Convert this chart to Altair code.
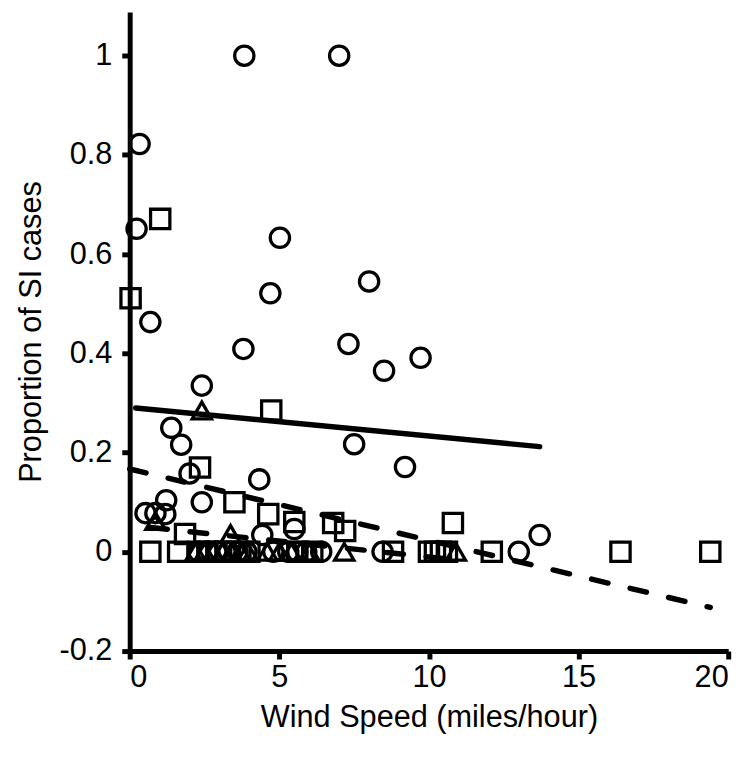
import altair as alt
import pandas as pd

# Circles series
circ_x = [3.83, 7.0, 0.33, 0.23, 0.69, 5.02, 4.7, 8.0, 3.8, 7.31, 8.5, 9.72, 2.41, 1.39, 1.72,
          7.5, 9.2, 2.0, 4.33, 2.41, 1.22, 0.53, 0.86, 1.19, 5.5, 4.43, 13.7, 13.0, 8.45, 2.3,
          2.6, 2.9, 3.3, 3.6, 3.9, 4.8, 5.3, 5.6, 5.9, 6.4]
circ_y = [1.0, 1.0, 0.822, 0.651, 0.463, 0.633, 0.521, 0.545, 0.409, 0.419, 0.365, 0.391, 0.335, 0.25, 0.216,
          0.217, 0.171, 0.158, 0.146, 0.1, 0.104, 0.078, 0.078, 0.076, 0.046, 0.034, 0.034, 0.0, 0.0, 0.0,
          0.0, 0.0, 0.0, 0.0, 0.0, 0.0, 0.0, 0.0, 0.0, 0.0]

# Squares series
sq_x = [1.02, 0.03, 4.73, 2.35, 3.5, 4.63, 5.5, 1.85, 6.8, 7.2, 10.8, 0.69, 1.62, 2.3, 2.6, 2.9,
        3.2, 3.7, 4.0, 5.6, 6.1, 8.8, 10.0, 10.2, 10.4, 10.6, 12.1, 16.4, 19.4]
sq_y = [0.671, 0.511, 0.285, 0.17, 0.1, 0.076, 0.06, 0.036, 0.058, 0.042, 0.058, 0.0, 0.0, 0.0, 0.0, 0.0,
        0.0, 0.0, 0.0, 0.0, 0.0, 0.0, 0.0, 0.0, 0.0, 0.0, 0.0, 0.0, 0.0]

# Triangles series
tri_x = [2.41, 0.86, 3.37, 2.2, 2.5, 2.8, 3.1, 3.4, 3.7, 3.95, 4.6, 5.0, 5.4, 6.0, 7.17, 10.9]
tri_y = [0.285, 0.062, 0.036, 0.0, 0.0, 0.0, 0.0, 0.0, 0.0, 0.0, 0.0, 0.0, 0.0, 0.0, 0.0, 0.0]

# Trend line endpoints
circ_line_x = [0.2, 13.7]
circ_line_y = [0.29, 0.212]
sq_line_x = [0.0, 19.4]
sq_line_y = [0.167, -0.112]
tri_line_x = [0.7, 11.2]
tri_line_y = [0.049, -0.018]

x_ticks = [0, 5, 10, 15, 20]
y_ticks = [-0.2, 0, 0.2, 0.4, 0.6, 0.8, 1]

pts = pd.concat([
    pd.DataFrame({"x": circ_x, "y": circ_y, "s": "circles"}),
    pd.DataFrame({"x": sq_x, "y": sq_y, "s": "squares"}),
    pd.DataFrame({"x": tri_x, "y": tri_y, "s": "triangles"}),
])

FONT = "Liberation Sans"
xscale = alt.Scale(domain=[0, 20], nice=False, zero=False)
yscale = alt.Scale(domain=[-0.2, 1.088], nice=False, zero=False)

xax = alt.Axis(values=x_ticks, title="Wind Speed (miles/hour)", grid=False,
               labelFont=FONT, labelFontSize=31, titleFont=FONT, titleFontSize=31,
               titleFontWeight="normal", labelColor="black", titleColor="black",
               domainColor="black", domainWidth=5, tickColor="black", tickWidth=5,
               tickSize=8, labelPadding=4, titlePadding=10)
yax = alt.Axis(values=y_ticks, title="Proportion of SI cases", grid=False,
               labelExpr="'' + datum.value",
               labelFont=FONT, labelFontSize=31, titleFont=FONT, titleFontSize=31,
               titleFontWeight="normal", labelColor="black", titleColor="black",
               domainColor="black", domainWidth=5, tickColor="black", tickWidth=5,
               tickSize=8, labelPadding=10, titlePadding=12)

points = alt.Chart(pts).mark_point(filled=False, color="black", strokeWidth=3.3, size=380, opacity=1).encode(
    x=alt.X("x:Q", scale=xscale, axis=xax),
    y=alt.Y("y:Q", scale=yscale, axis=yax),
    shape=alt.Shape("s:N", scale=alt.Scale(domain=["circles", "squares", "triangles"],
                                            range=["circle", "square", "triangle-up"]), legend=None),
)

def line(xs, ys, dash):
    df = pd.DataFrame({"x": xs, "y": ys})
    kw = dict(color="black", strokeWidth=5.5, strokeCap="round")
    if dash:
        kw["strokeDash"] = [17, 23]
    return alt.Chart(df).mark_line(**kw).encode(
        x=alt.X("x:Q", scale=xscale), y=alt.Y("y:Q", scale=yscale))

chart = alt.layer(
    points,
    line(circ_line_x, circ_line_y, False),
    line(sq_line_x, sq_line_y, True),
    line(tri_line_x, tri_line_y, True),
).properties(
    width=605, height=646,
    autosize=alt.AutoSizeParams(type="none"),
    padding={"left": 123, "top": 0, "right": 20, "bottom": 100},
).configure_view(stroke=None)

chart.save("out.html", embed_options={"renderer": "svg", "actions": False})
